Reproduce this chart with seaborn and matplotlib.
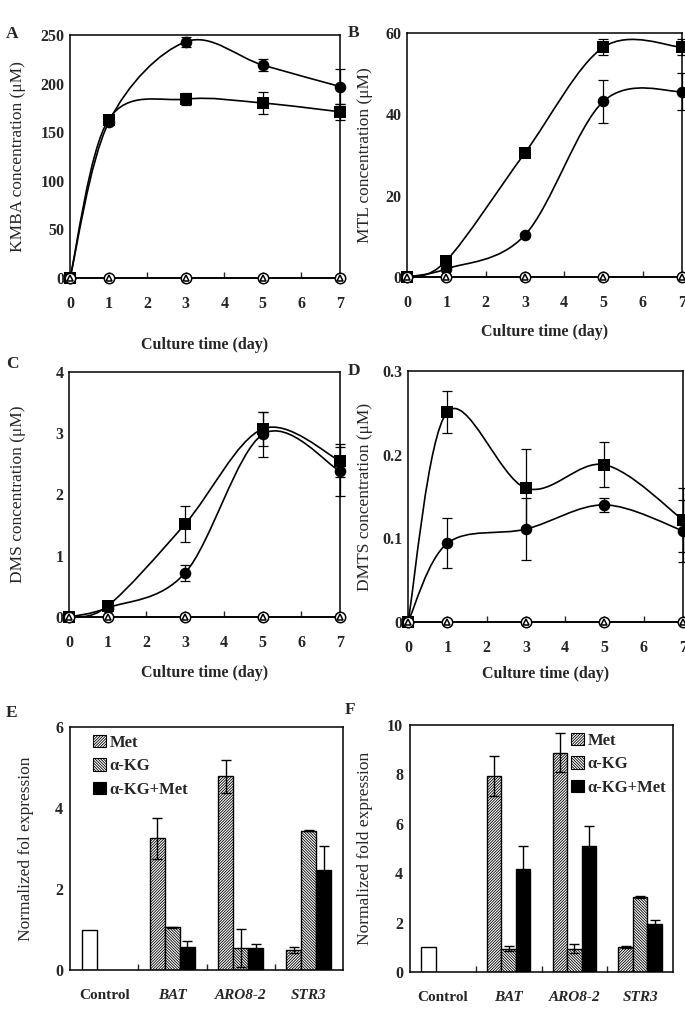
import numpy as np
import pandas as pd
import matplotlib
matplotlib.use("Agg")
import matplotlib.pyplot as plt
import seaborn as sns
from matplotlib.path import Path
from matplotlib.patches import PathPatch, Patch

# ---- time course data (panels A-D) ----
days = [0, 1, 3, 5, 7]
zeros = [0, 0, 0, 0, 0]

kmba_sq = [0, 163, 184, 180, 171]
kmba_sq_err = [0, 3, 6, 11, 8]
kmba_ci = [0, 160, 243, 219, 197]
kmba_ci_err = [0, 3, 5, 6, 18]

mtl_sq = [0, 4.0, 30.5, 56.5, 56.5]
mtl_sq_err = [0, 0.5, 1.0, 2.0, 2.0]
mtl_ci = [0, 2.0, 10.3, 43.2, 45.6]
mtl_ci_err = [0, 0.3, 0.5, 5.3, 4.5]

dms_sq = [0, 0.18, 1.52, 3.07, 2.55]
dms_sq_err = [0, 0.02, 0.30, 0.28, 0.27]
dms_ci = [0, 0.15, 0.72, 2.98, 2.38]
dms_ci_err = [0, 0.02, 0.13, 0.36, 0.40]

dmts_sq = [0, 0.251, 0.160, 0.188, 0.122]
dmts_sq_err = [0, 0.025, 0.047, 0.027, 0.038]
dmts_ci = [0, 0.094, 0.111, 0.140, 0.109]
dmts_ci_err = [0, 0.030, 0.037, 0.008, 0.037]

# ---- gene expression data (panels E-F) ----
genes = ["Control", "BAT", "ARO8-2", "STR3"]
treatments = ["Met", "α-KG", "α-KG+Met"]

e_met = [1.0, 3.25, 4.78, 0.50]
e_met_err = [0, 0.51, 0.40, 0.08]
e_akg = [None, 1.05, 0.55, 3.44]
e_akg_err = [0, 0.02, 0.47, 0.02]
e_both = [None, 0.56, 0.55, 2.47]
e_both_err = [0, 0.16, 0.08, 0.58]

f_met = [1.0, 7.93, 8.88, 1.02]
f_met_err = [0, 0.81, 0.78, 0.05]
f_akg = [None, 0.95, 0.95, 3.02]
f_akg_err = [0, 0.10, 0.19, 0.04]
f_both = [None, 4.18, 5.12, 1.93]
f_both_err = [0, 0.92, 0.80, 0.19]

sns.set_theme(style="ticks")
plt.rcParams["font.family"] = ["Liberation Serif", "DejaVu Serif"]
plt.rcParams["axes.linewidth"] = 1.1
plt.rcParams["hatch.linewidth"] = 0.6
plt.rcParams["axes.edgecolor"] = "black"

W, H = 685, 1026
fig = plt.figure(figsize=(W / 100, H / 100), dpi=100)


def box(left, right, top, bottom):
    return [left / W, 1 - bottom / H, (right - left) / W, (bottom - top) / H]


def smooth_path(x, y):
    # excel-like smoothed line: catmull-rom segments as cubic beziers
    pts = np.column_stack([x, y]).astype(float)
    n = len(pts)
    verts = [pts[0]]
    codes = [Path.MOVETO]
    for i in range(n - 1):
        p0 = pts[max(i - 1, 0)]
        p1 = pts[i]
        p2 = pts[i + 1]
        p3 = pts[min(i + 2, n - 1)]
        verts += [p1 + (p2 - p0) / 6, p2 - (p3 - p1) / 6, p2]
        codes += [Path.CURVE4] * 3
    return Path(verts, codes)


def time_panel(ax, sq, sq_err, ci, ci_err, ymax, yticks, ylabel, letter, lpos,
               xlab_pad, ylab_x):
    for vals, err, mk in [(sq, sq_err, "s"), (ci, ci_err, "o")]:
        ax.add_patch(PathPatch(smooth_path(days, vals), fill=False,
                               edgecolor="black", lw=1.2, zorder=2))
        ax.errorbar(days, vals, yerr=err, fmt="none", ecolor="black",
                    elinewidth=0.9, capsize=3.5, capthick=0.9, zorder=3,
                    clip_on=False)
        sns.scatterplot(x=days, y=vals, marker=mk, s=70, color="black",
                        edgecolor="black", linewidth=0, zorder=4,
                        clip_on=False, ax=ax)
    ax.plot(days, zeros, color="black", lw=1.2, marker="o", ms=7.5,
            mfc="white", mec="black", mew=1.1, zorder=4, clip_on=False)
    ax.plot(days, zeros, color="black", lw=0, marker="^", ms=5,
            mfc="white", mec="black", mew=1.1, zorder=5, clip_on=False)
    ax.set_xlim(0, 7)
    ax.set_ylim(0, ymax)
    ax.set_xticks(range(8))
    ax.set_yticks(yticks)
    ax.set_yticklabels([f"{t:g}" for t in yticks])
    ax.tick_params(axis="x", direction="in", length=4, width=1, pad=13,
                   labelsize=11.5)
    ax.tick_params(axis="y", direction="in", length=0, pad=4, labelsize=11.5)
    for lab in ax.get_xticklabels() + ax.get_yticklabels():
        lab.set_fontweight("bold")
    ax.set_xlabel("Culture time (day)", fontsize=11.5, fontweight="bold",
                  labelpad=xlab_pad)
    ax.set_ylabel(ylabel, fontsize=12.5)
    ax.yaxis.set_label_coords(ylab_x, 0.5)
    fig.text(lpos[0] / W, 1 - lpos[1] / H, letter, fontsize=12.5,
             fontweight="bold", ha="left", va="center")


ax_a = fig.add_axes(box(70, 340, 35, 278))
time_panel(ax_a, kmba_sq, kmba_sq_err, kmba_ci, kmba_ci_err, 250,
           [0, 50, 100, 150, 200, 250], "KMBA concentration (μM)", "A",
           (6, 34), 18, -0.163)
ax_b = fig.add_axes(box(407, 682, 33, 277))
time_panel(ax_b, mtl_sq, mtl_sq_err, mtl_ci, mtl_ci_err, 60,
           [0, 20, 40, 60], "MTL concentration (μM)", "B", (348, 33), 9,
           -0.124)
ax_c = fig.add_axes(box(69, 340, 372, 617))
time_panel(ax_c, dms_sq, dms_sq_err, dms_ci, dms_ci_err, 4,
           [0, 1, 2, 3, 4], "DMS concentration (μM)", "C", (6, 364), 10,
           -0.158)
ax_d = fig.add_axes(box(408, 683, 371, 622))
time_panel(ax_d, dmts_sq, dmts_sq_err, dmts_ci, dmts_ci_err, 0.3,
           [0, 0.1, 0.2, 0.3], "DMTS concentration (μM)", "D", (348, 371), 7,
           -0.128)

hatches = {"Met": "/" * 12, "α-KG": "\\" * 12, "α-KG+Met": ""}
faces = {"Met": "white", "α-KG": "white", "α-KG+Met": "black"}


def bar_panel(ax, met, met_err, akg, akg_err, both, both_err, ymax, yticks,
              ylabel, letter, lpos, legend_loc, legend_anchor, ylab_x):
    rows = []
    for name, vals, errs in [("Met", met, met_err), ("α-KG", akg, akg_err),
                             ("α-KG+Met", both, both_err)]:
        for g, v, e in zip(genes, vals, errs):
            if v is not None:
                rows.append({"gene": g, "treatment": name, "value": v, "err": e})
    df = pd.DataFrame(rows)
    sns.barplot(data=df, x="gene", y="value", hue="treatment", order=genes,
                hue_order=treatments, width=0.66, errorbar=None, legend=False,
                palette=faces, edgecolor="black", linewidth=1.0, ax=ax)
    for cont, name in zip(ax.containers, treatments):
        sub = df[df.treatment == name]
        for bar in cont:
            xc = bar.get_x() + bar.get_width() / 2
            g = genes[int(round(xc))]
            row = sub[sub.gene == g].iloc[0]
            if g == "Control":
                bar.set_facecolor("white")
                bar.set_hatch("")
            else:
                bar.set_facecolor(faces[name])
                bar.set_hatch(hatches[name])
                ax.errorbar(xc, row.value, yerr=row.err, fmt="none",
                            ecolor="black", elinewidth=1.0, capsize=3.5,
                            capthick=1.0, zorder=5)
    ax.set_xlim(-0.5, 3.5)
    ax.set_ylim(0, ymax)
    ax.set_yticks(yticks)
    ax.set_xticks(range(len(genes)))
    ax.set_xticks([0.5, 1.5, 2.5], minor=True)
    ax.tick_params(axis="x", which="major", length=0, pad=14, labelsize=11)
    ax.tick_params(axis="x", which="minor", direction="in", length=4, width=1)
    ax.tick_params(axis="y", direction="in", length=0, pad=5, labelsize=11.5)
    for i, lab in enumerate(ax.get_xticklabels()):
        lab.set_fontweight("bold")
        if i > 0:
            lab.set_fontstyle("italic")
    for lab in ax.get_yticklabels():
        lab.set_fontweight("bold")
    ax.set_xlabel("")
    ax.set_ylabel(ylabel, fontsize=12.5)
    ax.yaxis.set_label_coords(ylab_x, 0.5)
    handles = [Patch(facecolor=faces[t], edgecolor="black", hatch=hatches[t],
                     linewidth=0.8, label=t) for t in treatments]
    ax.legend(handles=handles, loc=legend_loc, bbox_to_anchor=legend_anchor,
              frameon=False, handlelength=0.75, handleheight=0.75,
              handletextpad=0.25, labelspacing=0.45, borderaxespad=0,
              prop={"weight": "bold", "size": 12})
    fig.text(lpos[0] / W, 1 - lpos[1] / H, letter, fontsize=12.5,
             fontweight="bold", ha="left", va="center")


ax_e = fig.add_axes(box(70, 343, 727, 970))
bar_panel(ax_e, e_met, e_met_err, e_akg, e_akg_err, e_both, e_both_err, 6,
          [0, 2, 4, 6], "Normalized fol expression", "E", (6, 713),
          "upper left", (0.06, 0.995), -0.132)
ax_f = fig.add_axes(box(410, 673, 725, 972))
bar_panel(ax_f, f_met, f_met_err, f_akg, f_akg_err, f_both, f_both_err, 10,
          [0, 2, 4, 6, 8, 10], "Normalized fold expression", "F", (345, 710),
          "upper right", (1.0, 0.995), -0.141)

fig.savefig("out.png", dpi=100, facecolor="white")
